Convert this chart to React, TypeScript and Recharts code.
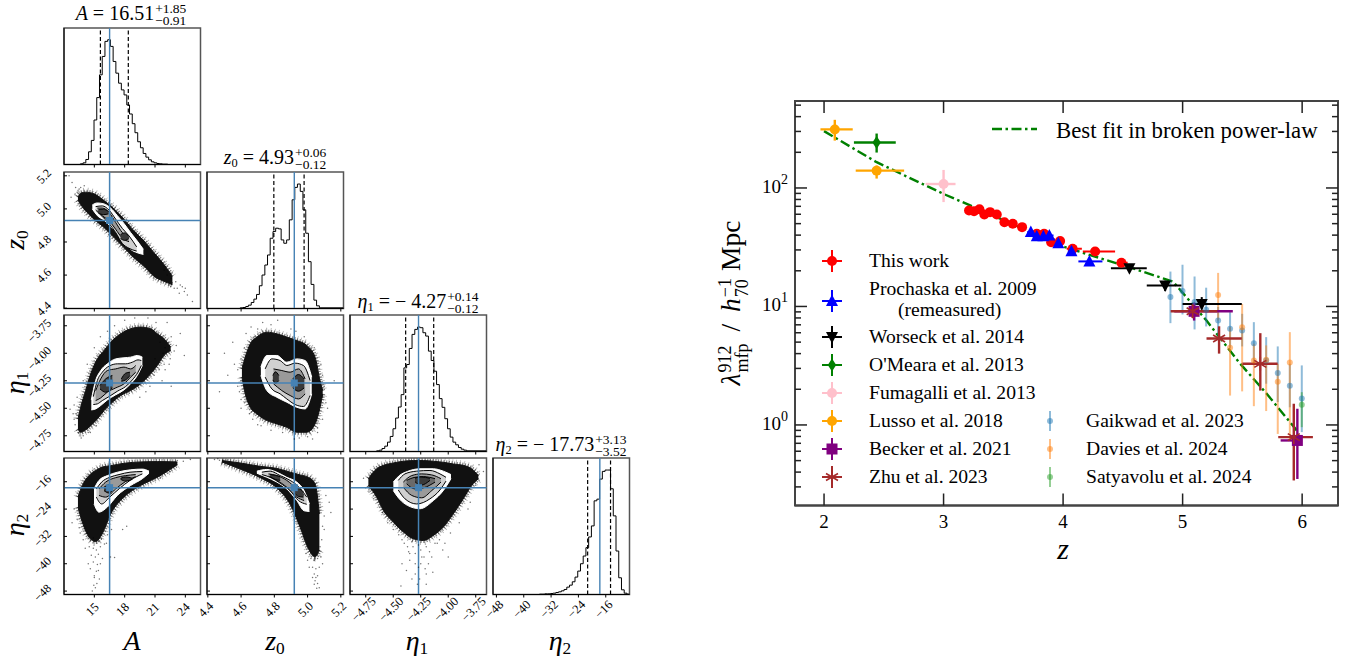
import { ReactNode } from "react";
import {
  Area,
  ComposedChart,
  ErrorBar,
  Line,
  ReferenceArea,
  ReferenceLine,
  Scatter,
  XAxis,
  YAxis,
} from "recharts";

const FONT = '"Liberation Serif", "Times New Roman", serif';

// ---- corner plot: parameter axes ----
const aDomain = [12, 25.5];
const z0Domain = [4.395, 5.216];
const z0RowDomain = [4.398, 5.223];
const eta1Domain = [-4.893, -3.652];
const eta2Domain = [-49, -9.05];

const aTicks = [15, 18, 21, 24];
const z0Ticks = [4.4, 4.6, 4.8, 5.0, 5.2];
const eta1Ticks = [-4.75, -4.5, -4.25, -4.0, -3.75];
const eta2Ticks = [-48, -40, -32, -24, -16];

const aTruth = 16.51;
const z0Truth = 4.92;
const z0RowTruth = 4.93;
const eta1Truth = -4.27;
const eta2Truth = -17.73;

// ---- corner plot: histograms (bin left edge, height) ----
const histAX = [12, 13.62, 13.89, 14.16, 14.43, 14.7, 14.97, 15.24, 15.51, 15.78, 16.05, 16.32, 16.59, 16.86, 17.13, 17.4, 17.67, 17.94, 18.21, 18.48, 18.75, 19.02, 19.29, 19.56, 19.83, 20.1, 20.37, 20.64, 20.91, 21.18, 21.45, 21.72, 21.99, 22.26, 22.53, 22.8, 25.5];
const histAY = [0, 2, 5, 15, 38, 72, 133, 200, 268, 323, 368, 373, 353, 308, 273, 243, 223, 208, 178, 151, 122, 95, 68, 50, 33, 22, 14, 8, 5, 3, 2, 1, 1, 0, 0, 0, 0];
const histZX = [4.395, 4.595, 4.611, 4.628, 4.644, 4.661, 4.677, 4.693, 4.71, 4.726, 4.743, 4.759, 4.775, 4.792, 4.808, 4.825, 4.841, 4.857, 4.874, 4.89, 4.907, 4.923, 4.939, 4.956, 4.972, 4.989, 5.005, 5.021, 5.038, 5.054, 5.071, 5.216];
const histZY = [0, 2, 3, 6, 10, 18, 28, 42, 68, 100, 130, 160, 210, 230, 240, 238, 205, 195, 205, 265, 325, 362, 372, 350, 295, 225, 140, 72, 25, 8, 2, 0];
const histE1X = [-4.893, -4.651, -4.626, -4.602, -4.577, -4.552, -4.527, -4.502, -4.478, -4.453, -4.428, -4.403, -4.378, -4.354, -4.329, -4.304, -4.279, -4.254, -4.23, -4.205, -4.18, -4.155, -4.13, -4.106, -4.081, -4.056, -4.031, -4.006, -3.982, -3.957, -3.932, -3.907, -3.882, -3.858, -3.833, -3.652];
const histE1Y = [0, 2, 4, 9, 16, 28, 45, 68, 100, 133, 170, 250, 260, 308, 350, 365, 372, 370, 355, 345, 300, 272, 240, 200, 158, 132, 98, 68, 43, 28, 20, 12, 7, 4, 2, 0];
const histE2X = [-49, -35.4, -34.6, -33.8, -33, -32.2, -31.4, -30.6, -29.8, -29, -28.2, -27.4, -26.6, -25.8, -25, -24.2, -23.4, -22.6, -21.8, -21, -20.2, -19.4, -18.6, -17.8, -17, -16.2, -15.4, -14.6, -13.8, -13, -12.2, -11.4, -10.6, -9.8, -9.05];
const histE2Y = [0, 1, 1, 2, 2, 3, 4, 6, 8, 11, 15, 22, 28, 38, 52, 70, 92, 115, 140, 172, 205, 280, 285, 345, 368, 372, 372, 316, 235, 130, 50, 14, 4, 1, 0];

const band = (xs: number[], lows: number[], highs: number[]) =>
  xs.map((x, i) => ({ x, band: [lows[i], highs[i]] }));
const xy = (pairs: number[][]) => pairs.map(([x, y]) => ({ x, y }));

// ---- A / z0 panel ----
const azBlob = band([13.38, 13.65, 14.14, 14.97, 15.96, 16.95, 17.93, 18.92, 19.91, 20.9, 21.89, 22.72], [5.054, 5.026, 4.989, 4.938, 4.888, 4.827, 4.766, 4.705, 4.654, 4.593, 4.562, 4.542], [5.071, 5.095, 5.101, 5.091, 5.05, 5.0, 4.938, 4.867, 4.806, 4.735, 4.664, 4.593]);
const azWhite = band([14.8, 15.3, 15.96, 16.62, 17.28, 17.93, 18.59, 19.25, 19.85], [5.0, 4.959, 4.932, 4.892, 4.851, 4.806, 4.756, 4.735, 4.725], [5.024, 5.036, 5.03, 5.005, 4.959, 4.912, 4.857, 4.806, 4.756]);
const azLevels = [
  band([15.13, 15.79, 16.45, 17.11, 17.77, 18.43, 19.19], [4.993, 4.953, 4.912, 4.857, 4.791, 4.762, 4.745], [5.014, 5.018, 4.993, 4.938, 4.882, 4.837, 4.77]),
  band([15.3, 15.79, 16.45, 17.11, 17.77, 18.43], [4.989, 4.959, 4.928, 4.877, 4.823, 4.802], [5.005, 5.005, 4.979, 4.918, 4.857, 4.827]),
];
const azLobes = [
  band([15.4, 15.9, 16.4], [4.975, 4.965, 4.97], [4.995, 4.998, 4.985]),
  band([17.6, 18.0, 18.4], [4.82, 4.81, 4.82], [4.845, 4.855, 4.835]),
];
const azPoints = xy([[12.5, 5.2], [12.8, 5.16], [13.15, 5.13], [12.7, 5.07], [13.65, 5.13], [14, 5.14], [22.4, 4.54], [23.05, 4.56], [23.2, 4.52], [23.5, 4.54], [23.9, 4.5], [24.2, 4.48], [24.7, 4.44], [23.4, 4.49], [22.55, 4.53], [22.9, 4.52], [23.7, 4.53], [24, 4.52], [22.2, 4.6], [21.9, 4.63], [22.6, 4.58], [13.1, 5.09], [13.3, 5.1], [13.5, 5.12]]);

// ---- A / eta1 panel ----
const aeBlob = band([13.38, 13.65, 14.14, 14.64, 15.3, 15.96, 16.62, 17.61, 18.59, 19.58, 20.57, 21.23, 21.89, 22.55], [-4.688, -4.718, -4.697, -4.658, -4.597, -4.521, -4.46, -4.384, -4.339, -4.278, -4.187, -4.111, -4.02, -3.975], [-4.597, -4.491, -4.339, -4.187, -4.051, -3.975, -3.899, -3.823, -3.777, -3.762, -3.777, -3.823, -3.868, -3.944]);
const aeWhite = band([14.7, 15.13, 15.63, 16.29, 17.11, 17.93, 18.59, 19.25, 19.75], [-4.515, -4.506, -4.475, -4.424, -4.378, -4.333, -4.278, -4.202, -4.111], [-4.424, -4.248, -4.157, -4.096, -4.051, -4.041, -4.035, -4.02, -4.035]);
const aeLevels = [
  band([14.9, 15.3, 15.79, 16.45, 17.28, 18.1, 18.76, 19.32, 19.65], [-4.466, -4.46, -4.43, -4.394, -4.345, -4.302, -4.242, -4.172, -4.111], [-4.394, -4.248, -4.172, -4.117, -4.096, -4.096, -4.081, -4.06, -4.066]),
  band([15.13, 15.63, 16.29, 17.11, 17.93, 18.59, 19.09], [-4.43, -4.406, -4.353, -4.315, -4.278, -4.217, -4.172], [-4.339, -4.233, -4.157, -4.142, -4.126, -4.142, -4.111]),
];
const aeLobes = [
  band([15.56, 16.12, 16.78], [-4.324, -4.354, -4.315], [-4.293, -4.233, -4.202]),
  band([17.67, 18.1, 18.53], [-4.254, -4.242, -4.202], [-4.233, -4.181, -4.172]),
];
const aePoints = xy([[22.6, -3.85], [23.5, -3.82], [23.1, -3.93], [23.9, -4.02], [22.5, -4.05], [21.9, -4.1], [22.6, -4.3], [21.7, -4.25], [21.1, -3.72], [20.3, -3.68], [22.2, -3.72], [13, -4.47], [13.2, -4.55], [12.6, -4.51], [13.4, -4.72], [13.7, -4.77], [13.9, -4.75], [14.4, -4.72], [22, -4.15], [22.9, -3.98], [21.5, -3.9], [22, -3.95], [21.8, -4.0], [22.3, -3.9], [21.4, -4.15], [20.9, -4.2], [20.5, -4.3], [20.1, -4.35], [19.5, -4.4], [21, -4.05], [22.4, -4.1], [13, -4.6], [13.1, -4.65], [12.9, -4.55], [14.6, -4.72], [15.2, -4.66], [13.3, -4.4], [13.9, -4.25], [14.3, -4.1], [15, -3.95], [15.6, -3.85], [16.3, -3.8], [17, -3.75], [18, -3.7], [19, -3.68]]);

// ---- z0 / eta1 panel ----
const zeBlob = band([4.605, 4.625, 4.655, 4.695, 4.755, 4.815, 4.875, 4.935, 4.995, 5.045, 5.075, 5.091], [-4.217, -4.369, -4.491, -4.551, -4.612, -4.642, -4.673, -4.718, -4.718, -4.642, -4.491, -4.369], [-4.142, -4.035, -3.914, -3.853, -3.808, -3.823, -3.853, -3.884, -3.929, -4.035, -4.248, -4.339]);
const zeWhite = band([4.719, 4.755, 4.815, 4.875, 4.935, 4.985, 5.025], [-4.202, -4.339, -4.4, -4.445, -4.491, -4.506, -4.369], [-4.126, -4.02, -4.02, -4.081, -4.051, -4.066, -4.217]);
const zeLevels = [
  band([4.745, 4.785, 4.835, 4.875, 4.925, 4.975, 5.015], [-4.217, -4.324, -4.369, -4.415, -4.466, -4.484, -4.384], [-4.142, -4.051, -4.066, -4.111, -4.09, -4.111, -4.248]),
  band([4.795, 4.845, 4.895, 4.945, 4.985], [-4.278, -4.339, -4.384, -4.415, -4.369], [-4.142, -4.157, -4.172, -4.142, -4.233]),
];
const zeLobes = [
  band([4.791, 4.807, 4.827], [-4.242, -4.272, -4.248], [-4.202, -4.169, -4.202]),
  band([4.911, 4.945, 4.979], [-4.315, -4.345, -4.315], [-4.233, -4.193, -4.233]),
];
const zePoints = xy([[4.5, -4.0], [4.55, -3.9], [4.52, -4.2], [4.58, -4.3], [4.6, -4.42], [4.47, -4.35], [4.63, -3.82], [4.66, -3.76], [4.73, -3.72], [4.82, -3.7], [4.9, -3.78], [5.09, -4.4], [5.12, -4.5], [5.16, -4.25], [5.06, -4.72], [5.03, -4.78], [4.95, -4.77], [4.6, -4.5], [4.7, -4.65], [4.62, -3.95], [4.6, -4.05], [4.58, -4.15], [4.56, -4.1], [4.59, -4.35], [4.62, -4.45], [4.65, -4.55], [4.67, -4.6], [4.72, -4.66], [4.78, -4.7], [4.85, -4.72], [4.92, -4.78], [5.0, -4.76], [5.06, -4.68], [5.09, -4.6], [5.11, -4.45], [5.1, -4.3], [5.09, -4.2], [5.08, -4.1], [5.04, -3.95], [4.98, -3.85], [4.93, -3.8], [4.78, -3.74], [4.7, -3.78], [4.68, -3.85]]);

// ---- A / eta2 panel ----
const a2Blob = band([13.38, 13.81, 14.47, 15.13, 15.79, 16.62, 17.93, 19.58, 21.23, 23.21], [-23.4, -27.8, -32.2, -33.5, -31.2, -25.4, -20.5, -17.1, -14.7, -11], [-20.5, -17.1, -14.2, -12.7, -11.7, -11.3, -10.6, -10.2, -10.1, -10.2]);
const a2White = band([14.97, 15.46, 16.29, 17.28, 18.59, 19.75, 20.41], [-22.5, -24.9, -23.4, -20, -17.1, -15.1, -13.5], [-18.1, -15.6, -14.2, -13.2, -12.5, -12.3, -12.9]);
const a2Levels = [
  band([15.2, 15.72, 16.52, 17.44, 18.53, 19.75], [-20.5, -22.5, -20.5, -18.1, -15.6, -13.7], [-18.1, -16.1, -14.7, -13.9, -13.2, -13]),
  band([15.46, 16.12, 17.11, 18.1, 19.09], [-20, -20.5, -18.1, -15.9, -14.5], [-18.1, -16.1, -14.8, -14.2, -13.9]),
];
const a2Lobes = [
  band([15.96, 16.45, 16.78], [-18.6, -19.3, -18.6], [-17.6, -16.9, -17.6]),
  band([17.6, 18.1, 18.76], [-15.3, -15.8, -15.3], [-15, -14.6, -15]),
];
const a2Points = xy([[13.3, -27], [13, -24], [12.8, -28], [14.4, -40], [15, -44], [15.1, -47], [14.8, -48], [15.4, -42], [16.6, -38], [17, -38.2], [16.2, -34], [24.5, -9.5], [23.8, -10], [22.5, -13], [21.5, -15], [23.2, -9.8], [17.8, -30], [18.2, -29], [14.3, -31], [14.6, -33], [14.9, -32.5], [15.4, -33.5], [15.7, -32.8], [14.5, -35], [14.9, -35.5], [15.2, -36], [15.6, -35], [16, -34.2], [14.7, -37.5], [15.1, -38], [15.4, -37.2], [15.8, -38.5], [14.9, -39.5], [15.3, -40.2], [15.6, -40], [14.6, -41.5], [15.2, -42.2], [15.0, -43.5], [15.5, -44.5], [15.25, -45.8], [14.95, -46.3], [13.6, -31], [13.9, -33], [14.1, -35.5], [13.5, -29.5], [16.3, -31.5], [16.7, -30]]);

// ---- z0 / eta2 panel ----
const z2Blob = band([4.485, 4.595, 4.715, 4.815, 4.895, 4.955, 5.005, 5.045, 5.071], [-10.2, -12.3, -14.8, -17.8, -22.6, -29.3, -35.6, -38, -36], [-9.8, -10.5, -11.5, -12.1, -13.2, -14, -14.7, -16.6, -25.4]);
const z2White = band([4.695, 4.755, 4.815, 4.875, 4.935, 4.979, 5.011], [-13.5, -14.7, -16.1, -18.1, -21.5, -24.5, -24.7], [-12.9, -12.4, -13.2, -14.7, -16.1, -18.6, -22.5]);
const z2Levels = [
  band([4.725, 4.775, 4.835, 4.895, 4.945, 4.995], [-13.9, -14.7, -16.4, -18.6, -21.5, -22.6], [-13.2, -12.9, -14.2, -15.6, -17.4, -20.5]),
  band([4.765, 4.815, 4.875, 4.935, 4.979], [-14.4, -15.6, -17.6, -20.5, -21.5], [-13.7, -14.2, -15.6, -18.1, -20]),
];
const z2Lobes = [
  band([4.775, 4.805, 4.835], [-14.5, -15.3, -15.6], [-13.9, -14.1, -14.5]),
  band([4.925, 4.945, 4.975], [-19.5, -20.3, -20.5], [-18.1, -18, -19]),
];
const z2Points = xy([[4.44, -9.5], [4.47, -9.7], [5.1, -26], [5.13, -22], [5.11, -20], [5.05, -44], [5.07, -47], [5.04, -46], [4.99, -37], [5.08, -38], [5.1, -30], [5.09, -40], [4.46, -9.3], [5.14, -25], [5.02, -38.5], [5.04, -39], [5.06, -38.5], [5.03, -41], [5.05, -41.5], [5.07, -41], [5.04, -43], [5.06, -43.5], [5.045, -45], [5.06, -45.8], [5.055, -47.2], [5.03, -44], [5.075, -35], [5.085, -33], [5.09, -29], [5.0, -39], [5.01, -41]]);

// ---- eta1 / eta2 panel ----
const e2Blob = band([-4.726, -4.651, -4.59, -4.499, -4.408, -4.317, -4.226, -4.135, -4.045, -3.954, -3.863, -3.787, -3.726], [-17.1, -20.5, -24.4, -27.8, -30.7, -32.7, -33.2, -31.7, -29.3, -25.4, -21, -17.1, -15.1], [-15.1, -12.2, -11.2, -10.5, -10, -9.8, -9.8, -10, -10.3, -10.8, -11.2, -12.2, -14.2]);
const e2White = band([-4.499, -4.445, -4.372, -4.257, -4.135, -4.045, -3.975], [-18.6, -21, -22.9, -23.9, -21.5, -18.6, -15.1], [-16.1, -14.2, -13, -12.2, -12.2, -12.9, -13.9]);
const e2Levels = [
  band([-4.454, -4.393, -4.287, -4.166, -4.075, -4.02], [-18.4, -21, -22.5, -21, -18.4, -15.8], [-15.6, -13.7, -12.9, -12.7, -13.7, -14.7]),
  band([-4.408, -4.332, -4.241, -4.15, -4.066], [-17.6, -20, -20.7, -18.6, -16.1], [-16.1, -14.2, -13.7, -14, -15.1]),
  band([-4.378, -4.302, -4.226, -4.12], [-16.6, -18.1, -17.8, -16.1], [-15.6, -14.7, -14.5, -15.1]),
];
const e2Lobes = [band([-4.302, -4.248, -4.166], [-16, -17, -15.6], [-14.9, -14.6, -15])];
const e2Points = xy([[-4.77, -15], [-4.72, -19], [-4.68, -21], [-4.6, -25], [-4.4, -34], [-4.35, -37], [-4.3, -40], [-4.2, -43], [-4.15, -38], [-4.05, -36], [-4.28, -46], [-4.38, -42], [-4.25, -36], [-3.72, -11], [-3.68, -13], [-3.75, -17], [-3.8, -22], [-4, -38], [-4.43, -46.5], [-4.42, -40], [-4.22, -38], [-4.32, -35], [-4.1, -34], [-4.42, -33], [-4.37, -35], [-4.33, -33.5], [-4.3, -37], [-4.27, -34.5], [-4.24, -38], [-4.2, -35], [-4.17, -36.5], [-4.12, -34], [-4.08, -33], [-4.35, -39], [-4.27, -41], [-4.25, -40], [-4.21, -41.5], [-4.18, -40], [-4.3, -43], [-4.26, -44.5], [-4.2, -46], [-4.33, -44.5], [-4.14, -42.5], [-4.36, -36.5], [-4.45, -31.5], [-4.5, -30], [-4.55, -28], [-3.98, -31], [-3.9, -28], [-3.82, -24], [-4.03, -34]]);

// ---- mean free path panel ----
const fitZ = [2, 2.44, 3, 3.3, 4, 4.55, 4.92, 5.2, 5.48, 5.7, 5.955];
const fitV = [302, 165, 89, 66, 32, 21.5, 16.2, 7.6, 3.3, 1.85, 0.9];

const rows = (z: number[], v: number[], zLo: number[], zHi: number[], vLo: number[], vHi: number[]) =>
  z.map((zz, i) => ({ z: zz, v: v[i], ex: [zz - zLo[i], zHi[i] - zz], ey: [v[i] - vLo[i], vHi[i] - v[i]] }));

const thisWork = rows(
  [3.213, 3.255, 3.3, 3.341, 3.389, 3.445, 3.509, 3.579, 3.657, 3.78, 3.841, 3.9, 3.975, 4.08, 4.268, 4.488],
  [64.6, 63.7, 66.2, 59.7, 62.5, 59.7, 51.4, 49.9, 46.7, 41, 41, 34.9, 35.6, 30.7, 29.1, 23.4],
  [3.2, 3.24, 3.28, 3.32, 3.37, 3.42, 3.48, 3.55, 3.62, 3.74, 3.81, 3.87, 3.94, 4.03, 4.165, 4.45],
  [3.23, 3.27, 3.32, 3.36, 3.41, 3.47, 3.54, 3.61, 3.69, 3.81, 3.87, 3.93, 4.01, 4.157, 4.435, 4.54],
  [62, 61, 63.5, 57.5, 60, 57.5, 49.5, 48, 45, 39.5, 39.5, 33.5, 34, 29.5, 28, 22.5],
  [67, 66, 69, 62, 65, 62, 53.5, 52, 48.5, 42.5, 42.5, 36.5, 37, 32, 30.2, 24.5]
);
const prochaska = rows(
  [3.73, 3.78, 3.835, 3.885, 3.96, 4.07, 4.22],
  [42.4, 39.2, 39.2, 39.7, 34.2, 29.3, 24],
  [3.7, 3.74, 3.8, 3.85, 3.91, 4.04, 4.128],
  [3.76, 3.82, 3.87, 3.92, 4.0, 4.12, 4.329],
  [40.5, 37.5, 37.5, 38, 32.7, 28, 23],
  [44.5, 41, 41, 41.5, 35.8, 30.6, 25]
);
const worseck = rows([4.555, 4.854, 5.16], [21, 15, 10.5], [4.4, 4.7, 5.0], [4.7, 4.99, 5.495], [19.5, 13.5, 9.4], [22.5, 16.5, 12]);
const omeara = rows([2.44], [242], [2.25], [2.6], [199], [288]);
const fumagalli = rows([3.0], [108], [2.85], [3.1], [76], [142]);
const lusso = rows([2.09, 2.44], [312, 140], [1.97, 2.265], [2.24, 2.67], [251, 120], [376, 155]);
const becker = rows([5.096, 5.96], [9.1, 0.74], [4.93, 5.82], [5.42, 6.0], [7.6, 0.35], [10.8, 1.37]);
const zhu = rows([5.084, 5.305, 5.65, 5.93], [9.1, 5.37, 3.28, 0.79], [4.9, 5.2, 5.5, 5.8], [5.29, 5.495, 5.795, 6.09], [8, 4, 1.95, 0.34], [10.3, 6.8, 5.95, 1.51]);

const gaikwadZ = [4.898, 4.999, 5.1, 5.197, 5.297, 5.397, 5.498, 5.596, 5.699, 5.796, 5.897, 5.997];
const gaikwad = rows(gaikwadZ, [12, 13.5, 10.9, 9.4, 7.62, 6.48, 6.27, 4.9, 3.5, 2.74, 2.14, 1.67], gaikwadZ, gaikwadZ, [7.23, 8.56, 6.4, 6.78, 5.69, 4.48, 4.6, 3.28, 2.23, 1.56, 1.41, 0.87], [19.7, 22.5, 17.9, 14.4, 9.9, 8.96, 8.67, 7.37, 5.51, 4.6, 3.28, 3.18]);
const daviesZ = [5.297, 5.397, 5.498, 5.596, 5.699, 5.796, 5.897];
const davies = rows(daviesZ, [12.5, 4.48, 6.69, 3.5, 3.55, 2.32, 3.37], daviesZ, daviesZ, [7.62, 1.77, 1.92, 1.44, 1.31, 0.84, 0.74], [19.2, 6.69, 10.5, 4.84, 4.69, 3.28, 6.07]);
const satyavolu = rows([5.997], [1.48], [5.997], [5.997], [0.958], [1.89]);

const mfpZTicks = [2, 3, 4, 5, 6];
const mfpMajorTicks = [1, 10, 100];
const mfpMinorTicks = [0.3, 0.4, 0.5, 0.6, 0.7, 0.8, 0.9, 2, 3, 4, 5, 6, 7, 8, 9, 20, 30, 40, 50, 60, 70, 80, 90, 200, 300, 400, 500];
const mfpExponents: Record<number, string> = { 1: "0", 10: "1", 100: "2" };

// ---- layout ----
const colLefts = [63.5, 206.5, 350, 493.3];
const rowTops = [28, 171.5, 315, 457.7];
const PANEL = 136.5;
const PAD = 52;
const EDGE = 16;
const TRUTH = "#4682b4";

const fmt = (digits: number) => (v: number) => v.toFixed(digits).replace("-", "\u2212");

const Speck = (p: any) => <circle cx={p.cx} cy={p.cy} r={0.75} fill="#000" fillOpacity={0.55} />;
const TruthMark = (p: any) => <rect x={p.cx - 3.5} y={p.cy - 3.5} width={7} height={7} fill={TRUTH} />;

const xTick = (labels: boolean, digits: number) => (p: any) => (
  <g>
    <line x1={p.x} x2={p.x} y1={p.y} y2={p.y + 3} stroke="#000" strokeWidth={1} />
    {labels && (
      <text x={p.x - 2} y={p.y + 19} fontSize={12.5} fill="#000" fontFamily={FONT} textAnchor="middle" transform={`rotate(-45 ${p.x - 2} ${p.y + 15})`}>
        {fmt(digits)(p.payload.value)}
      </text>
    )}
  </g>
);
const yTick = (labels: boolean, digits: number) => (p: any) => (
  <g>
    <line x1={p.x} x2={p.x + 3} y1={p.y} y2={p.y} stroke="#000" strokeWidth={1} />
    {labels && (
      <text x={p.x - 12} y={p.y - 2} fontSize={12} fill="#000" fontFamily={FONT} textAnchor="end" transform={`rotate(-45 ${p.x - 12} ${p.y - 2})`}>
        {fmt(digits)(p.payload.value)}
      </text>
    )}
  </g>
);

type PanelProps = {
  col: number;
  row: number;
  xDomain: number[];
  yDomain: number[];
  xTicks: number[];
  yTicks: number[];
  xDigits: number;
  yDigits: number;
  children: ReactNode;
};

function Panel({ col, row, xDomain, yDomain, xTicks, yTicks, xDigits, yDigits, children }: PanelProps) {
  return (
    <div style={{ position: "absolute", left: colLefts[col] - PAD, top: rowTops[row] - EDGE }}>
      <ComposedChart width={PANEL + PAD + EDGE} height={PANEL + PAD + EDGE} margin={{ top: EDGE, right: EDGE, left: 0, bottom: 0 }}>
        <XAxis
          dataKey="x"
          type="number"
          domain={xDomain}
          ticks={xTicks}
          interval={0}
          allowDataOverflow
          height={PAD}
          tickSize={0}
          tickMargin={0}
          tickLine={false}
          stroke="#000"
          tick={xTick(row === 3, xDigits)}
        />
        <YAxis
          type="number"
          domain={yDomain}
          ticks={yTicks}
          interval={0}
          allowDataOverflow
          width={PAD}
          tickSize={0}
          tickMargin={0}
          tickLine={false}
          stroke="#000"
          tick={yTicks.length ? yTick(col === 0, yDigits) : false}
        />
        {children}
        <ReferenceArea x1={xDomain[0]} x2={xDomain[1]} y1={yDomain[0]} y2={yDomain[1]} fill="none" stroke="#555" strokeWidth={1.5} />
      </ComposedChart>
    </div>
  );
}

type DiagProps = {
  col: number;
  domain: number[];
  ticks: number[];
  digits: number;
  xs: number[];
  ys: number[];
  truth: number;
  lo: number;
  hi: number;
};

function DiagPanel({ col, domain, ticks, digits, xs, ys, truth, lo, hi }: DiagProps) {
  const data = xs.map((x, i) => ({ x, y: ys[i] }));
  return (
    <Panel col={col} row={col} xDomain={domain} yDomain={[0, 408]} xTicks={ticks} yTicks={[]} xDigits={digits} yDigits={0}>
      <Line data={data} dataKey="y" type="stepAfter" stroke="#000" strokeWidth={1} dot={false} isAnimationActive={false} />
      <ReferenceLine x={lo} stroke="#000" strokeWidth={1.2} strokeDasharray="4 2.5" />
      <ReferenceLine x={hi} stroke="#000" strokeWidth={1.2} strokeDasharray="4 2.5" />
      <ReferenceLine x={truth} stroke={TRUTH} strokeWidth={1.4} />
    </Panel>
  );
}

const LEVEL_FILLS = ["#d0d0d0", "#9a9a9a", "#6a6a6a"];
const LOBE_FILL = "#3a3a3a";

type BandRows = ReturnType<typeof band>;
type JointProps = {
  col: number;
  row: number;
  xDomain: number[];
  yDomain: number[];
  xTicks: number[];
  yTicks: number[];
  xDigits: number;
  yDigits: number;
  blob: BandRows;
  white: BandRows;
  levels: BandRows[];
  lobes: BandRows[];
  points: { x: number; y: number }[];
  truthX: number;
  truthY: number;
};

function JointPanel(p: JointProps) {
  const fill = (rowsIn: BandRows, color: string, stroke: string, key: string, extra: object = {}) => (
    <Area key={key} data={rowsIn} dataKey="band" type="monotone" fill={color} fillOpacity={1} stroke={stroke} strokeWidth={1} dot={false} activeDot={false} isAnimationActive={false} {...extra} />
  );
  return (
    <Panel col={p.col} row={p.row} xDomain={p.xDomain} yDomain={p.yDomain} xTicks={p.xTicks} yTicks={p.yTicks} xDigits={p.xDigits} yDigits={p.yDigits}>
      {/* the feathered edge of the sample cloud: two wide dashed strokes under the fill */}
      {fill(p.blob, "none", "#000", "halo2", { strokeWidth: 9, strokeDasharray: "0.8 3.1", strokeOpacity: 0.3 })}
      {fill(p.blob, "none", "#000", "halo1", { strokeWidth: 5, strokeDasharray: "1 1.7", strokeOpacity: 0.55 })}
      {fill(p.blob, "#111", "#111", "blob")}
      {fill(p.white, "#fff", "#fff", "white")}
      {p.levels.map((l, i) => fill(l, LEVEL_FILLS[i], "#000", `level${i}`))}
      {p.lobes.map((l, i) => fill(l, LOBE_FILL, "#000", `lobe${i}`))}
      <Scatter data={p.points} dataKey="y" shape={Speck} isAnimationActive={false} />
      <ReferenceLine x={p.truthX} stroke={TRUTH} strokeWidth={1.5} />
      <ReferenceLine y={p.truthY} stroke={TRUTH} strokeWidth={1.5} />
      <Scatter data={[{ x: p.truthX, y: p.truthY }]} dataKey="y" shape={TruthMark} isAnimationActive={false} />
    </Panel>
  );
}

// ---- math text helpers ----
const Scripts = ({ up, down, size, gap = 1 }: { up: string; down: string; size: number; gap?: number }) => (
  <span style={{ display: "inline-flex", flexDirection: "column", verticalAlign: "middle", fontSize: size, lineHeight: `${size * 0.95}px`, marginLeft: gap, textAlign: "left" }}>
    <span>{up}</span>
    <span>{down}</span>
  </span>
);
const Sym = ({ s, sub, size = 20 }: { s: string; sub?: string; size?: number }) => (
  <span>
    <i>{s}</i>
    {sub && <span style={{ fontSize: size * 0.62, position: "relative", top: size * 0.14 }}>{sub}</span>}
  </span>
);

function Title({ cx, cy, sym, sub, value, up, down }: { cx: number; cy: number; sym: string; sub?: string; value: string; up: string; down: string }) {
  return (
    <div style={{ position: "absolute", left: cx, top: cy, transform: "translate(-50%, -50%)", whiteSpace: "nowrap", fontFamily: FONT, fontSize: 20 }}>
      <Sym s={sym} sub={sub} /> = {value}
      <Scripts up={up} down={down} size={13.5} />
    </div>
  );
}

function AxisName({ cx, cy, rotate, sym, sub, size = 28 }: { cx: number; cy: number; rotate?: boolean; sym: string; sub?: string; size?: number }) {
  return (
    <div style={{ position: "absolute", left: cx, top: cy, transform: `translate(-50%, -50%)${rotate ? " rotate(-90deg)" : ""}`, whiteSpace: "nowrap", fontFamily: FONT, fontSize: size, lineHeight: 1 }}>
      <Sym s={sym} sub={sub} size={size} />
    </div>
  );
}

// ---- markers for the mean free path panel ----
type MarkFn = (cx: number, cy: number, color: string) => ReactNode;
const circle: MarkFn = (x, y, c) => <circle cx={x} cy={y} r={5} fill={c} />;
const smallDot: MarkFn = (x, y, c) => <circle cx={x} cy={y} r={3} fill={c} />;
const tri: MarkFn = (x, y, c) => <path d={`M${x} ${y - 6.5}L${x + 6} ${y + 5}L${x - 6} ${y + 5}Z`} fill={c} />;
const triDown: MarkFn = (x, y, c) => <path d={`M${x} ${y + 6.5}L${x + 6} ${y - 5}L${x - 6} ${y - 5}Z`} fill={c} />;
const diamond: MarkFn = (x, y, c) => <path d={`M${x} ${y - 6.5}L${x + 4.2} ${y}L${x} ${y + 6.5}L${x - 4.2} ${y}Z`} fill={c} />;
const square: MarkFn = (x, y, c) => <rect x={x - 5.5} y={y - 5.5} width={11} height={11} fill={c} />;
const star: MarkFn = (x, y, c) => (
  <path d={`M${x} ${y - 7}V${y + 7}M${x - 6} ${y - 3.5}L${x + 6} ${y + 3.5}M${x - 6} ${y + 3.5}L${x + 6} ${y - 3.5}`} stroke={c} strokeWidth={1.6} fill="none" />
);

const BLUE_A = "#1f77b480";
const ORANGE_A = "#ff7f0e80";
const GREEN_A = "#2ca02c80";

type Series = { name: string; data: ReturnType<typeof rows>; color: string; mark: MarkFn; width: number };
const seriesList: Series[] = [
  { name: "Gaikwad et al. 2023", data: gaikwad, color: BLUE_A, mark: smallDot, width: 2 },
  { name: "Davies et al. 2024", data: davies, color: ORANGE_A, mark: smallDot, width: 2 },
  { name: "Satyavolu et al. 2024", data: satyavolu, color: GREEN_A, mark: smallDot, width: 2 },
  { name: "This work", data: thisWork, color: "#ff0000", mark: circle, width: 2 },
  { name: "Prochaska et al. 2009", data: prochaska, color: "#0000ff", mark: tri, width: 2 },
  { name: "Worseck et al. 2014", data: worseck, color: "#000000", mark: triDown, width: 2 },
  { name: "O'Meara et al. 2013", data: omeara, color: "#008000", mark: diamond, width: 2.4 },
  { name: "Fumagalli et al. 2013", data: fumagalli, color: "#ffc0cb", mark: circle, width: 2.4 },
  { name: "Lusso et al. 2018", data: lusso, color: "#ffa500", mark: circle, width: 2.4 },
  { name: "Becker et al. 2021", data: becker, color: "#800080", mark: square, width: 2.4 },
  { name: "Zhu et al. 2023", data: zhu, color: "#a52a2a", mark: star, width: 2.4 },
];
const leftLegend = ["This work", "Prochaska et al. 2009", "Worseck et al. 2014", "O'Meara et al. 2013", "Fumagalli et al. 2013", "Lusso et al. 2018", "Becker et al. 2021", "Zhu et al. 2023"];
const rightLegend = ["Gaikwad et al. 2023", "Davies et al. 2024", "Satyavolu et al. 2024"];
const leftLegendY = [261, 301, 337, 365, 393, 421, 449, 477];
const rightLegendY = [421, 449, 477];

const MFP_LEFT = 795;
const MFP_TOP = 100.5;
const MFP_W = 543;
const MFP_H = 404.5;
const MFP_AXIS_L = 60;
const MFP_AXIS_B = 55;
const FIT_DASH = "10 3.5 2.5 3.5";

function LegendRow({ name, y, textY, markX, textX }: { name: string; y: number; textY: number; markX: number; textX: number }) {
  const s = seriesList.find((e) => e.name === name)!;
  const small = s.mark === smallDot;
  return (
    <>
      <svg style={{ position: "absolute", left: markX - 14, top: y - 14 }} width={28} height={28}>
        {!small && <line x1={4} x2={24} y1={14} y2={14} stroke={s.color} strokeWidth={2} />}
        <line x1={14} x2={14} y1={small ? 4 : 3} y2={small ? 24 : 25} stroke={s.color} strokeWidth={2} />
        {s.mark(14, 14, s.color)}
      </svg>
      <div style={{ position: "absolute", left: textX, top: textY, transform: "translateY(-50%)", fontFamily: FONT, fontSize: 19.6, whiteSpace: "nowrap" }}>
        {name}
      </div>
    </>
  );
}

function MfpChart() {
  const zTick = (p: any) => (
    <g>
      <line x1={p.x} x2={p.x} y1={p.y} y2={p.y - 12} stroke="#222" strokeWidth={1.5} />
      <line x1={p.x} x2={p.x} y1={p.y - MFP_H} y2={p.y - MFP_H + 12} stroke="#222" strokeWidth={1.5} />
      <text x={p.x} y={p.y + 22} fontSize={19} fill="#000" fontFamily={FONT} textAnchor="middle">{p.payload.value}</text>
    </g>
  );
  const vTick = (p: any) => {
    const exp = mfpExponents[p.payload.value];
    const len = exp ? 12 : 6;
    return (
      <g>
        <line x1={p.x} x2={p.x + len} y1={p.y} y2={p.y} stroke="#222" strokeWidth={1.5} />
        <line x1={p.x + MFP_W} x2={p.x + MFP_W - len} y1={p.y} y2={p.y} stroke="#222" strokeWidth={1.5} />
        {exp && (
          <text x={p.x - 7} y={p.y + 5} fontSize={19} fill="#000" fontFamily={FONT} textAnchor="end">
            10<tspan dy={-9} fontSize={14}>{exp}</tspan>
          </text>
        )}
      </g>
    );
  };
  const fitData = fitZ.map((z, i) => ({ z, v: fitV[i] }));
  return (
    <div style={{ position: "absolute", left: MFP_LEFT - MFP_AXIS_L, top: MFP_TOP - 2 }}>
      <ComposedChart width={MFP_W + MFP_AXIS_L + 4} height={MFP_H + MFP_AXIS_B + 2} margin={{ top: 2, right: 4, left: 0, bottom: 0 }}>
        <XAxis dataKey="z" type="number" domain={[1.757, 6.3]} ticks={mfpZTicks} interval={0} allowDataOverflow height={MFP_AXIS_B} tickSize={0} tickMargin={0} tickLine={false} stroke="#444" strokeWidth={2} tick={zTick} />
        <YAxis type="number" scale="log" domain={[0.209, 542]} ticks={[...mfpMajorTicks, ...mfpMinorTicks]} interval={0} allowDataOverflow width={MFP_AXIS_L} tickSize={0} tickMargin={0} tickLine={false} stroke="#444" strokeWidth={2} tick={vTick} />
        <Line data={fitData} dataKey="v" type="linear" stroke="#008000" strokeWidth={2.4} strokeDasharray={FIT_DASH} dot={false} isAnimationActive={false} />
        {seriesList.map((s) => (
          <Scatter key={s.name} name={s.name} data={s.data} dataKey="v" shape={(p: any) => <>{s.mark(p.cx, p.cy, s.color)}</>} isAnimationActive={false}>
            <ErrorBar dataKey="ey" direction="y" width={0} stroke={s.color} strokeWidth={s.width} isAnimationActive={false} />
            {s.mark !== smallDot && <ErrorBar dataKey="ex" direction="x" width={0} stroke={s.color} strokeWidth={s.width} isAnimationActive={false} />}
          </Scatter>
        ))}
        <ReferenceArea x1={1.757} x2={6.3} y1={0.209} y2={542} fill="none" stroke="#444" strokeWidth={2} />
      </ComposedChart>
    </div>
  );
}

export default function App() {
  return (
    <div style={{ position: "absolute", left: 0, top: 0, width: 1354, height: 660, background: "#fff", overflow: "hidden" }}>
      <DiagPanel col={0} domain={aDomain} ticks={aTicks} digits={0} xs={histAX} ys={histAY} truth={aTruth} lo={15.6} hi={18.36} />
      <DiagPanel col={1} domain={z0Domain} ticks={z0Ticks} digits={1} xs={histZX} ys={histZY} truth={z0Truth} lo={4.797} hi={4.979} />
      <DiagPanel col={2} domain={eta1Domain} ticks={eta1Ticks} digits={2} xs={histE1X} ys={histE1Y} truth={eta1Truth} lo={-4.387} hi={-4.132} />
      <DiagPanel col={3} domain={eta2Domain} ticks={eta2Ticks} digits={0} xs={histE2X} ys={histE2Y} truth={eta2Truth} lo={-21.3} hi={-14.6} />

      <JointPanel col={0} row={1} xDomain={aDomain} yDomain={z0RowDomain} xTicks={aTicks} yTicks={z0Ticks} xDigits={0} yDigits={1} blob={azBlob} white={azWhite} levels={azLevels} lobes={azLobes} points={azPoints} truthX={aTruth} truthY={z0RowTruth} />
      <JointPanel col={0} row={2} xDomain={aDomain} yDomain={eta1Domain} xTicks={aTicks} yTicks={eta1Ticks} xDigits={0} yDigits={2} blob={aeBlob} white={aeWhite} levels={aeLevels} lobes={aeLobes} points={aePoints} truthX={aTruth} truthY={eta1Truth} />
      <JointPanel col={1} row={2} xDomain={z0Domain} yDomain={eta1Domain} xTicks={z0Ticks} yTicks={eta1Ticks} xDigits={1} yDigits={2} blob={zeBlob} white={zeWhite} levels={zeLevels} lobes={zeLobes} points={zePoints} truthX={z0Truth} truthY={eta1Truth} />
      <JointPanel col={0} row={3} xDomain={aDomain} yDomain={eta2Domain} xTicks={aTicks} yTicks={eta2Ticks} xDigits={0} yDigits={0} blob={a2Blob} white={a2White} levels={a2Levels} lobes={a2Lobes} points={a2Points} truthX={aTruth} truthY={eta2Truth} />
      <JointPanel col={1} row={3} xDomain={z0Domain} yDomain={eta2Domain} xTicks={z0Ticks} yTicks={eta2Ticks} xDigits={1} yDigits={0} blob={z2Blob} white={z2White} levels={z2Levels} lobes={z2Lobes} points={z2Points} truthX={z0Truth} truthY={eta2Truth} />
      <JointPanel col={2} row={3} xDomain={eta1Domain} yDomain={eta2Domain} xTicks={eta1Ticks} yTicks={eta2Ticks} xDigits={2} yDigits={0} blob={e2Blob} white={e2White} levels={e2Levels} lobes={e2Lobes} points={e2Points} truthX={eta1Truth} truthY={eta2Truth} />

      <Title cx={131} cy={15} sym="A" value="16.51" up="+1.85" down="−0.91" />
      <Title cx={275} cy={159} sym="z" sub="0" value="4.93" up="+0.06" down="−0.12" />
      <Title cx={418} cy={303} sym="η" sub="1" value="− 4.27" up="+0.14" down="−0.12" />
      <Title cx={561} cy={446} sym="η" sub="2" value="− 17.73" up="+3.13" down="−3.52" />

      <AxisName cx={132} cy={641} sym="A" />
      <AxisName cx={275} cy={641} sym="z" sub="0" />
      <AxisName cx={417} cy={641} sym="η" sub="1" />
      <AxisName cx={560} cy={641} sym="η" sub="2" />
      <AxisName cx={15} cy={240} rotate sym="z" sub="0" />
      <AxisName cx={15} cy={383} rotate sym="η" sub="1" />
      <AxisName cx={15} cy={525} rotate sym="η" sub="2" />

      <MfpChart />

      {leftLegend.map((name, i) => (
        <LegendRow key={name} name={name} y={leftLegendY[i]} textY={i === 1 ? 289 : leftLegendY[i]} markX={832} textX={869} />
      ))}
      <div style={{ position: "absolute", left: 898, top: 310, transform: "translateY(-50%)", fontFamily: FONT, fontSize: 19.6 }}>(remeasured)</div>
      {rightLegend.map((name, i) => (
        <LegendRow key={name} name={name} y={rightLegendY[i]} textY={rightLegendY[i]} markX={1050} textX={1086} />
      ))}
      <svg style={{ position: "absolute", left: 990, top: 122 }} width={50} height={14}>
        <line x1={2} x2={47} y1={7} y2={7} stroke="#008000" strokeWidth={2.4} strokeDasharray={FIT_DASH} />
      </svg>
      <div style={{ position: "absolute", left: 1056, top: 131, transform: "translateY(-50%)", fontFamily: FONT, fontSize: 22.8, whiteSpace: "nowrap" }}>Best fit in broken power-law</div>

      <div style={{ position: "absolute", left: 733, top: 303, transform: "translate(-50%, -50%) rotate(-90deg)", whiteSpace: "nowrap", fontFamily: FONT, fontSize: 27.5 }}>
        <i>λ</i>
        <Scripts up="912" down="mfp" size={18} />
        <span style={{ marginLeft: 12 }}>/</span>
        <i style={{ marginLeft: 12 }}>h</i>
        <Scripts up="−1" down="70" size={18} />
        <span style={{ marginLeft: 7 }}>Mpc</span>
      </div>
      <AxisName cx={1063} cy={549} sym="z" size={30} />
    </div>
  );
}
